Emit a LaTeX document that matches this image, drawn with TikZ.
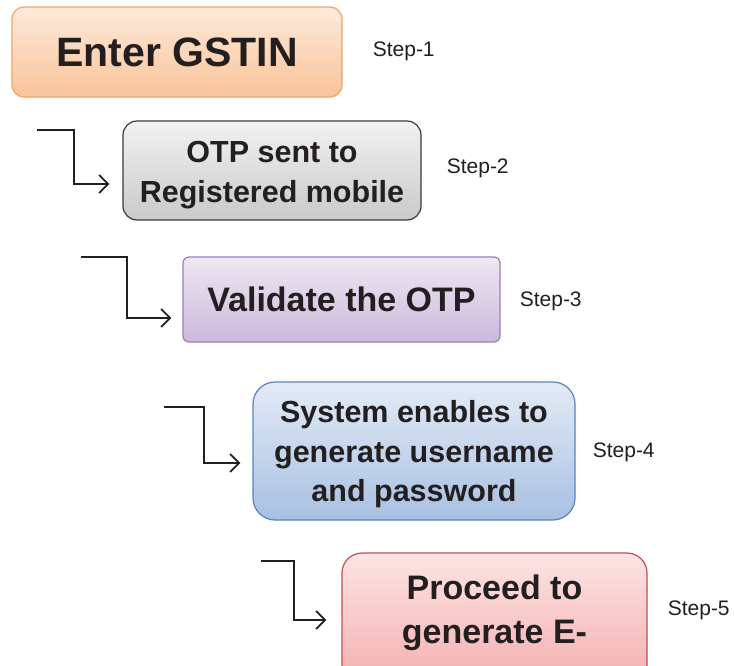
\documentclass[tikz,border=0pt]{standalone}
\usepackage{fontspec}
\setmainfont{Liberation Sans}
\usetikzlibrary{positioning,arrows.meta}

\definecolor{inkblack}{HTML}{231F20}
\definecolor{orangetop}{HTML}{FDEADB}
\definecolor{orangebot}{HTML}{F9C499}
\definecolor{orangeline}{HTML}{F0A465}
\definecolor{graytop}{HTML}{F2F2F2}
\definecolor{graybot}{HTML}{C9C9C9}
\definecolor{grayline}{HTML}{3A3A3A}
\definecolor{violettop}{HTML}{EEE8F3}
\definecolor{violetbot}{HTML}{CBB9DC}
\definecolor{violetline}{HTML}{9A80B5}
\definecolor{bluetop}{HTML}{E3EBF6}
\definecolor{bluebot}{HTML}{A8C0E2}
\definecolor{blueline}{HTML}{5A83BE}
\definecolor{redtop}{HTML}{FDE4E4}
\definecolor{redbot}{HTML}{F3A3A3}
\definecolor{redline}{HTML}{C0504D}

\tikzset{
  stepbox/.style={draw, line width=1.2pt, rounded corners=12pt, align=center,
    text=inkblack, inner sep=0pt,
    font=\bfseries\fontsize{30.5}{40}\selectfont},
  steplabel/.style={text=inkblack, inner sep=0pt,
    font=\fontsize{21}{24}\selectfont},
  elbow/.style={draw=inkblack, line width=1.8pt,
    -{Straight Barb[length=9pt,width=18pt]}},
}

\begin{document}
\begin{tikzpicture}[x=1pt, y=-1pt]
  \clip (0,0) rectangle (734,665);
  \fill[white] (0,0) rectangle (734,665);

  % boxes
  \node[stepbox, top color=orangetop, bottom color=orangebot, draw=orangeline,
    minimum width=330pt, minimum height=90pt,
    font=\bfseries\fontsize{41}{48}\selectfont] (b1) at (177,52) {Enter GSTIN};
  \node[stepbox, top color=graytop, bottom color=graybot, draw=grayline,
    rounded corners=14pt, minimum width=298pt, minimum height=99pt]
    (b2) at (272,170.5) {\rule{0pt}{30pt}OTP sent to\\Registered mobile};
  \node[stepbox, top color=violettop, bottom color=violetbot, draw=violetline,
    rounded corners=6pt, minimum width=317pt, minimum height=85pt,
    font=\bfseries\fontsize{34}{44}\selectfont] (b3) at (341.5,299.5) {Validate the OTP};
  \node[stepbox, top color=bluetop, bottom color=bluebot, draw=blueline,
    rounded corners=22pt, minimum width=322pt, minimum height=138pt,
    font=\bfseries\fontsize{30.5}{39.5}\selectfont]
    (b4) at (414,451) {\rule{0pt}{29pt}System enables to\\generate username\\and password};
  \node[stepbox, top color=redtop, bottom color=redbot, draw=redline,
    rounded corners=20pt, minimum width=305pt, minimum height=160pt,
    font=\bfseries\fontsize{34}{44}\selectfont]
    (b5) at (494.5,633) {Proceed to\\generate E-\rule[-47pt]{0pt}{0pt}};

  % step labels
  \node[steplabel, right=30pt of b1, yshift=1pt] (l1) {Step-1};
  \node[steplabel, right=25pt of b2, yshift=2pt] (l2) {Step-2};
  \node[steplabel, right=19pt of b3, yshift=-2pt] (l3) {Step-3};
  \node[steplabel, right=17pt of b4, yshift=-1pt] (l4) {Step-4};
  \node[steplabel, right=20pt of b5, yshift=23pt] (l5) {Step-5};

  % elbow arrows
  \coordinate (s1) at (37,130);
  \coordinate (e1) at ([xshift=-13pt, yshift=-13.5pt]b2.west);
  \draw[elbow] (s1) -- ++(37,0) |- (e1);

  \coordinate (s2) at (81,257);
  \coordinate (e2) at ([xshift=-11pt, yshift=-18.5pt]b3.west);
  \draw[elbow] (s2) -- ++(46,0) |- (e2);

  \coordinate (s3) at (164,407);
  \coordinate (e3) at ([xshift=-12pt, yshift=-12pt]b4.west);
  \draw[elbow] (s3) -- ++(40,0) |- (e3);

  \coordinate (s4) at (261,561);
  \coordinate (e4) at ([xshift=-15pt, yshift=13pt]b5.west);
  \draw[elbow] (s4) -- ++(33,0) |- (e4);
\end{tikzpicture}
\end{document}
